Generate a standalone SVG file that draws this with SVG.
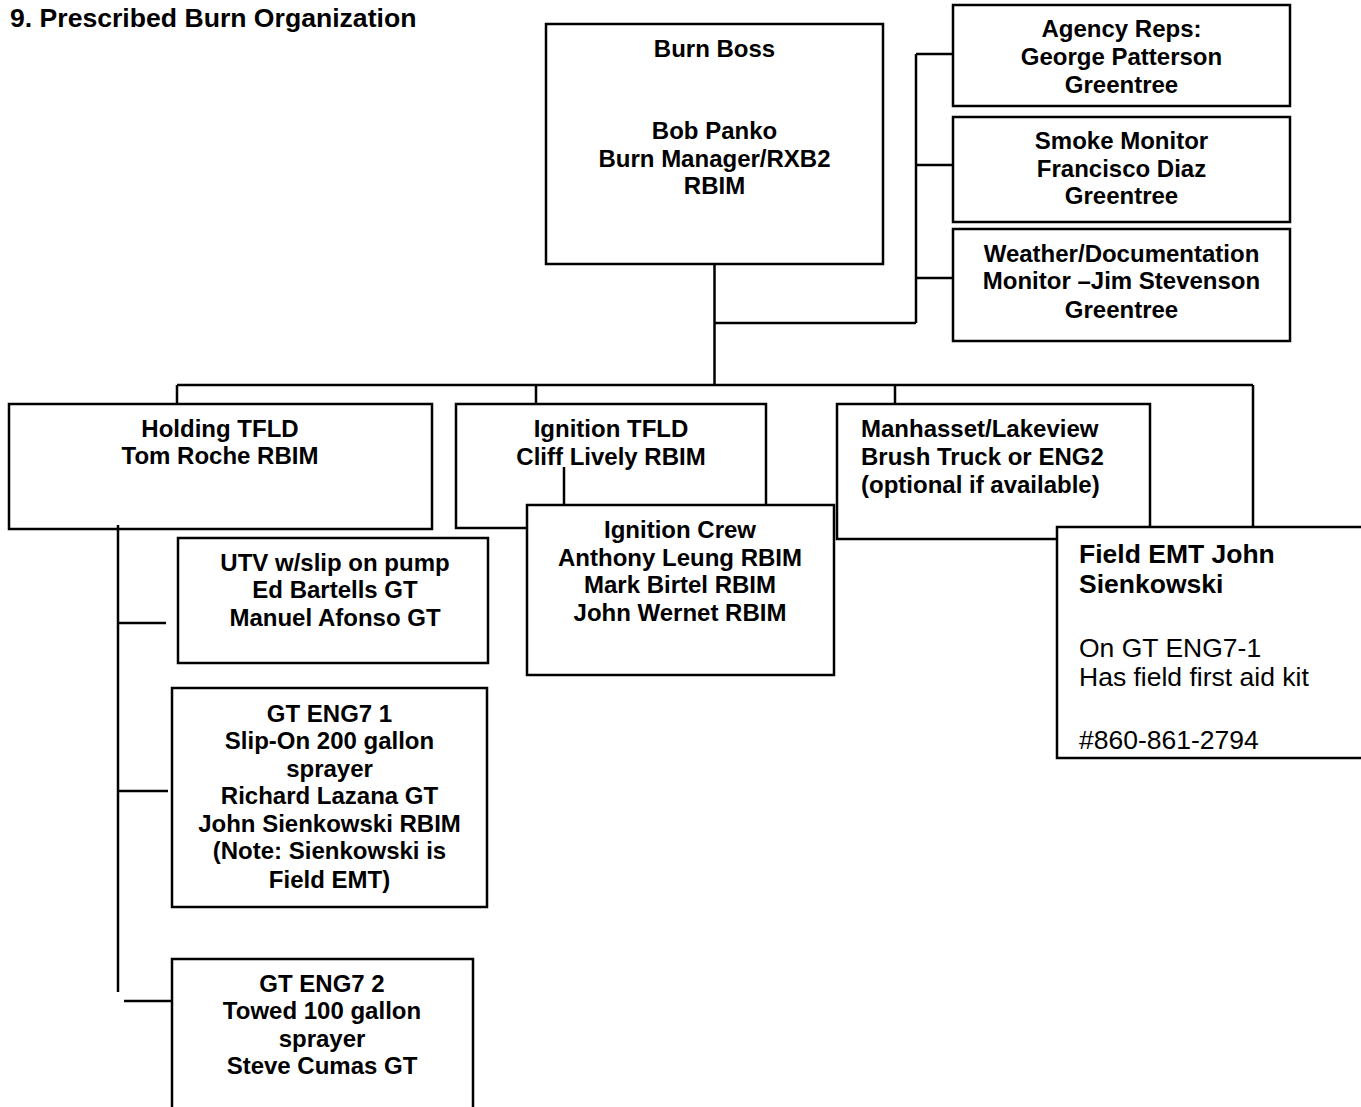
<svg xmlns="http://www.w3.org/2000/svg" width="1361" height="1107" viewBox="0 0 1361 1107">
<style>
.box{fill:#fff;stroke:#000;stroke-width:2.5}
.ln{fill:none;stroke:#000;stroke-width:2.5}
text{font-family:"Liberation Sans",Arial,sans-serif;fill:#000}
.b{font-weight:bold;font-size:24px}
.c{text-anchor:middle}
.e{font-size:26.5px}
</style>
<rect width="1361" height="1107" fill="#fff"/>
<text x="10" y="27" class="b" style="font-size:26.6px">9. Prescribed Burn Organization</text>
<g id="connectors">
<path class="ln" d="M714.5 264V385M714.5 323H916M916 54V323M916 54H953M916 165H953M916 278H953"/>
<path class="ln" d="M177 385H1253M177 385V404M536 385V404M895 385V404M1253 385V527"/>
<path class="ln" d="M118 525V992M118 623H166M118 791H168M124 1001H172"/>
<path class="ln" d="M564 467V505"/>
</g>
<g id="burn-boss">
<rect class="box" x="546" y="24" width="337" height="240"/>
<text class="b c" x="714.5" y="57">Burn Boss</text>
<text class="b c" x="714.5" y="139">Bob Panko</text>
<text class="b c" x="714.5" y="167">Burn Manager/RXB2</text>
<text class="b c" x="714.5" y="194">RBIM</text>
</g>
<g id="agency-reps">
<rect class="box" x="953" y="5" width="337" height="101"/>
<text class="b c" x="1121.5" y="37">Agency Reps:</text>
<text class="b c" x="1121.5" y="65">George Patterson</text>
<text class="b c" x="1121.5" y="93">Greentree</text>
</g>
<g id="smoke-monitor">
<rect class="box" x="953" y="117" width="337" height="105"/>
<text class="b c" x="1121.5" y="149">Smoke Monitor</text>
<text class="b c" x="1121.5" y="177">Francisco Diaz</text>
<text class="b c" x="1121.5" y="204">Greentree</text>
</g>
<g id="weather-monitor">
<rect class="box" x="953" y="229" width="337" height="112"/>
<text class="b c" x="1121.5" y="262">Weather/Documentation</text>
<text class="b c" x="1121.5" y="289">Monitor –Jim Stevenson</text>
<text class="b c" x="1121.5" y="318">Greentree</text>
</g>
<g id="holding-tfld">
<rect class="box" x="9" y="404" width="423" height="125"/>
<text class="b c" x="220" y="437">Holding TFLD</text>
<text class="b c" x="220" y="464">Tom Roche RBIM</text>
</g>
<path class="ln" d="M118 525V530"/>
<g id="ignition-tfld">
<rect class="box" x="456" y="404" width="310" height="124"/>
<text class="b c" x="611" y="437">Ignition TFLD</text>
<text class="b c" x="611" y="465">Cliff Lively RBIM</text>
</g>
<path class="ln" d="M564 467V505"/>
<g id="ignition-crew">
<rect class="box" x="527" y="505" width="307" height="170"/>
<text class="b c" x="680" y="538">Ignition Crew</text>
<text class="b c" x="680" y="566">Anthony Leung RBIM</text>
<text class="b c" x="680" y="593">Mark Birtel RBIM</text>
<text class="b c" x="680" y="621">John Wernet RBIM</text>
</g>
<g id="manhasset">
<rect class="box" x="837" y="404" width="313" height="135"/>
<text class="b" x="861" y="437">Manhasset/Lakeview</text>
<text class="b" x="861" y="465">Brush Truck or ENG2</text>
<text class="b" x="861" y="493">(optional if available)</text>
</g>
<g id="field-emt">
<rect class="box" x="1057" y="527" width="320" height="231"/>
<text class="b e" x="1079" y="563">Field EMT John</text>
<text class="b e" x="1079" y="593">Sienkowski</text>
<text class="e" x="1079" y="657">On GT ENG7-1</text>
<text class="e" x="1079" y="686">Has field first aid kit</text>
<text class="e" x="1079" y="749">#860-861-2794</text>
</g>
<g id="utv">
<rect class="box" x="178" y="538" width="310" height="125"/>
<text class="b c" x="335" y="571">UTV w/slip on pump</text>
<text class="b c" x="335" y="598">Ed Bartells GT</text>
<text class="b c" x="335" y="626">Manuel Afonso GT</text>
</g>
<g id="gt-eng7-1">
<rect class="box" x="172" y="688" width="315" height="219"/>
<text class="b c" x="329.5" y="722">GT ENG7 1</text>
<text class="b c" x="329.5" y="749">Slip-On 200 gallon</text>
<text class="b c" x="329.5" y="777">sprayer</text>
<text class="b c" x="329.5" y="804">Richard Lazana GT</text>
<text class="b c" x="329.5" y="832">John Sienkowski RBIM</text>
<text class="b c" x="329.5" y="859">(Note: Sienkowski is</text>
<text class="b c" x="329.5" y="888">Field EMT)</text>
</g>
<g id="gt-eng7-2">
<rect class="box" x="172" y="959" width="301" height="160"/>
<text class="b c" x="322" y="992">GT ENG7 2</text>
<text class="b c" x="322" y="1019">Towed 100 gallon</text>
<text class="b c" x="322" y="1047">sprayer</text>
<text class="b c" x="322" y="1074">Steve Cumas GT</text>
</g>
</svg>
